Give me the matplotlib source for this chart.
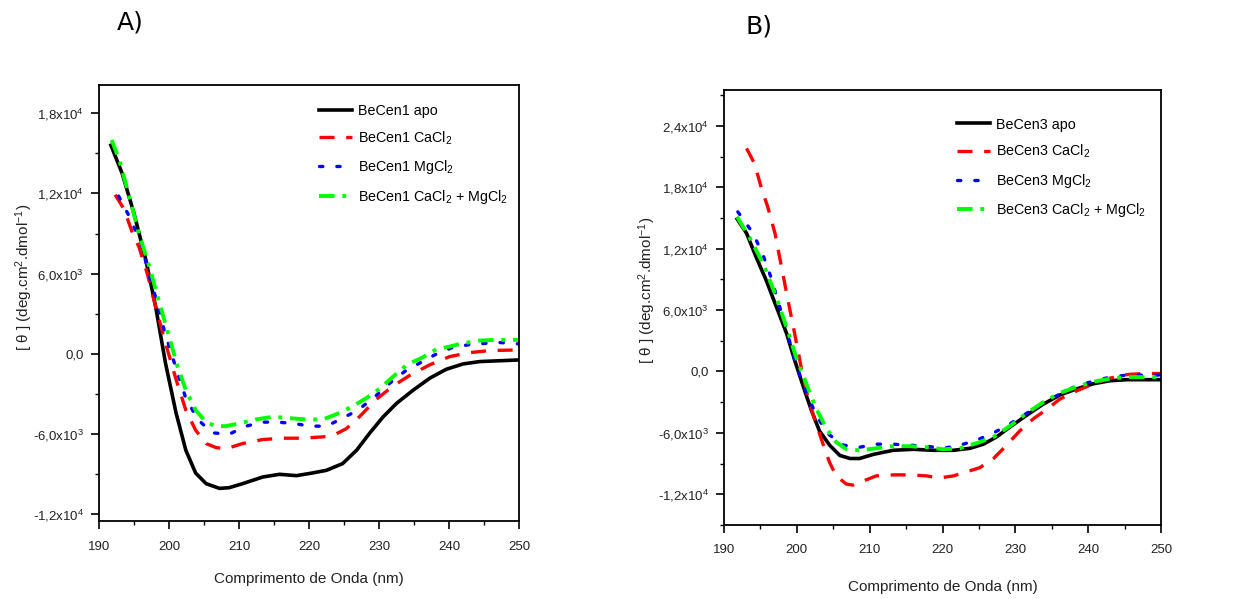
import matplotlib.pyplot as plt
from matplotlib.ticker import FixedLocator, FixedFormatter, MultipleLocator

plt.rcParams['font.family'] = ['Liberation Sans', 'DejaVu Sans']
plt.rcParams['mathtext.fontset'] = 'custom'
plt.rcParams['mathtext.rm'] = 'Liberation Sans'
plt.rcParams['mathtext.it'] = 'Liberation Sans'

# ---- Panel A: BeCen1 ----
a_apo_x = [191.7, 193.3, 195.0, 196.7, 198.1, 199.5, 201.0, 202.4, 203.8, 205.3, 207.2, 208.6,
           210.5, 213.4, 215.8, 218.2, 220.5, 222.5, 224.8, 226.8, 228.7, 230.6, 232.5, 234.9,
           237.3, 239.6, 242.0, 244.4, 246.8, 250.0]
a_apo_y = [15600, 13500, 10500, 7000, 3500, -700, -4400, -7200, -8900, -9700, -10050, -10000,
           -9700, -9200, -9000, -9100, -8900, -8700, -8200, -7200, -5900, -4700, -3700, -2700,
           -1800, -1150, -750, -570, -520, -450]

a_ca_x = [192.3, 193.6, 194.8, 195.7, 196.9, 198.1, 199.5, 201.0, 202.4, 203.8, 205.3, 206.7,
          208.1, 210.5, 213.4, 216.3, 219.1, 222.0, 223.4, 225.3, 227.2, 229.6, 232.0, 234.4,
          237.3, 240.1, 243.0, 245.8, 250.0]
a_ca_y = [11900, 10800, 9000, 8000, 6000, 3500, 800, -1900, -4200, -5700, -6700, -7000,
          -7100, -6700, -6400, -6300, -6300, -6200, -6100, -5600, -4700, -3400, -2400, -1600,
          -800, -200, 100, 250, 300]

a_mg_x = [192.8, 194.3, 196.0, 197.2, 198.5, 199.3, 200.3, 201.2, 202.4, 204.1, 206.2, 208.6,
          211.0, 213.4, 215.5, 217.9, 220.1, 222.5, 224.8, 227.0, 229.4, 231.5, 233.7, 236.1,
          238.4, 240.6, 243.0, 245.4, 247.3, 250.0]
a_mg_y = [11800, 10300, 8300, 5800, 3500, 1800, 100, -1400, -3300, -4900, -5900, -6000,
          -5400, -5100, -5100, -5200, -5400, -5400, -4800, -4200, -3200, -2200, -1300, -600,
          50, 500, 700, 800, 850, 750]

a_camg_x = [191.8, 192.9, 194.3, 195.7, 197.2, 198.8, 200.0, 201.2, 202.4, 203.8, 205.3, 206.7,
            208.1, 210.0, 212.4, 214.8, 217.2, 219.5, 222.0, 224.4, 226.3, 228.2, 230.1, 232.0,
            234.0, 236.1, 238.2, 240.1, 242.0, 244.4, 246.8, 250.0]
a_camg_y = [16000, 14500, 11800, 9000, 6500, 3500, 1300, -900, -2700, -4200, -5100, -5400,
            -5400, -5200, -4900, -4700, -4800, -4900, -4900, -4400, -3900, -3300, -2600, -1700,
            -800, -300, 350, 550, 800, 1000, 1050, 1050]

# ---- Panel B: BeCen3 ----
b_apo_x = [191.8, 193.1, 194.4, 195.8, 197.2, 198.6, 199.7, 200.9, 202.0, 203.1, 204.5, 205.9,
           207.3, 208.6, 210.5, 213.2, 216.0, 218.7, 221.5, 223.8, 225.6, 227.4, 229.3, 231.5,
           233.8, 236.1, 238.4, 240.7, 243.0, 245.3, 250.0]
b_apo_y = [14900, 13500, 11200, 8900, 6300, 3700, 1100, -1500, -3800, -5800, -7200, -8200,
           -8500, -8500, -8100, -7700, -7600, -7700, -7700, -7500, -7100, -6400, -5400, -4300,
           -3200, -2300, -1700, -1200, -900, -800, -800]

b_ca_x = [193.1, 194.2, 195.1, 196.0, 197.0, 197.9, 198.8, 199.7, 200.6, 201.5, 202.5, 203.6,
          204.5, 205.4, 206.8, 207.7, 209.1, 210.9, 213.2, 215.5, 217.8, 219.6, 221.5, 223.3,
          225.1, 227.0, 228.8, 230.6, 232.5, 234.3, 236.1, 238.4, 240.7, 243.0, 245.3, 247.6, 250.0]
b_ca_y = [21800, 20300, 18000, 16100, 13500, 10200, 6900, 3700, 400, -2500, -4800, -7100,
          -8900, -10200, -11000, -11100, -10700, -10200, -10100, -10100, -10200, -10400, -10200, -9800,
          -9400, -8500, -7200, -5800, -4600, -3700, -2700, -1900, -1200, -650, -300, -200, -200]

b_mg_x = [191.9, 194.0, 195.4, 196.5, 197.4, 198.3, 199.1, 200.0, 201.1, 202.5, 204.1, 206.4,
          208.6, 210.9, 213.2, 215.5, 217.8, 220.1, 222.4, 224.7, 227.0, 229.3, 231.5, 233.8,
          236.1, 238.4, 240.7, 243.0, 245.3, 247.6, 250.0]
b_mg_y = [15600, 13500, 11300, 9100, 6900, 4800, 2700, 400, -1700, -4000, -6000, -7200,
          -7400, -7100, -7100, -7200, -7300, -7500, -7200, -6700, -6000, -5100, -4100, -3100,
          -2200, -1400, -950, -550, -350, -350, -350]

b_camg_x = [191.8, 193.5, 195.4, 197.0, 198.6, 199.9, 201.3, 202.7, 204.1, 205.4, 206.8, 208.6,
            210.9, 213.2, 215.5, 217.8, 220.1, 222.4, 224.7, 227.0, 229.3, 231.5, 233.8, 236.1,
            238.4, 240.7, 243.0, 245.3, 250.0]
b_camg_y = [15100, 13100, 10500, 7600, 4300, 1400, -1200, -3700, -5600, -6900, -7600, -7700,
            -7500, -7300, -7300, -7400, -7600, -7500, -7000, -6400, -5300, -4100, -3000, -2100,
            -1500, -1000, -700, -550, -550]

x_ticks = [190, 200, 210, 220, 230, 240, 250]
a_yticks = [-12000, -6000, 0, 6000, 12000, 18000]
a_ylabels = ['-1,2x10$^4$', '-6,0x10$^3$', '0,0', '6,0x10$^3$', '1,2x10$^4$', '1,8x10$^4$']
b_yticks = [-12000, -6000, 0, 6000, 12000, 18000, 24000]
b_ylabels = ['-1,2x10$^4$', '-6,0x10$^3$', '0,0', '6,0x10$^3$', '1,2x10$^4$', '1,8x10$^4$',
             '2,4x10$^4$']

styles = [
    dict(color='black', lw=2.6, ls='-'),
    dict(color='#ff0000', lw=2.4, ls=(0, (4.5, 3.5))),
    dict(color='#0000ff', lw=2.4, ls=(0, (1, 4.2)), dash_capstyle='round'),
    dict(color='#00ff00', lw=2.8, ls=(0, (4, 2, 1, 2))),
]

fig = plt.figure(figsize=(12.41, 5.99), dpi=100)
axA = fig.add_axes([0.0798, 0.130, 0.3384, 0.728])
axB = fig.add_axes([0.5834, 0.1235, 0.3522, 0.7262])


def draw(ax, series, names, yticks, ylabels, ylim, lab_xy, leg_anchor, xpad):
    for (x, y), name, st in zip(series, names, styles):
        ax.plot(x, y, label=name, **st)
    ax.set_xlim(190, 250)
    ax.set_ylim(*ylim)
    ax.xaxis.set_major_locator(FixedLocator(x_ticks))
    ax.xaxis.set_minor_locator(MultipleLocator(5))
    ax.yaxis.set_major_locator(FixedLocator(yticks))
    ax.yaxis.set_major_formatter(FixedFormatter(ylabels))
    ax.yaxis.set_minor_locator(MultipleLocator(3000))
    ax.tick_params(which='major', direction='out', length=6, width=1.2, labelsize=9.5,
                   colors='black', labelcolor='#222222', pad=5)
    ax.tick_params(axis='x', which='major', pad=8)
    ax.tick_params(which='minor', direction='out', length=3, width=1.0)
    for s in ax.spines.values():
        s.set_linewidth(1.3)
    ax.set_xlabel('Comprimento de Onda (nm)', fontsize=11, labelpad=xpad, color='#222222')
    ax.set_ylabel('[ θ ] (deg.cm$^2$.dmol$^{-1}$)', fontsize=11, color='#222222')
    ax.yaxis.set_label_coords(*lab_xy)
    ax.legend(loc='upper left', bbox_to_anchor=leg_anchor, frameon=False, fontsize=10.3,
              handlelength=2.3, handletextpad=0.45, labelspacing=0.8, borderaxespad=0)


draw(axA,
     [(a_apo_x, a_apo_y), (a_ca_x, a_ca_y), (a_mg_x, a_mg_y), (a_camg_x, a_camg_y)],
     ['BeCen1 apo', 'BeCen1 CaCl$_2$', 'BeCen1 MgCl$_2$', 'BeCen1 CaCl$_2$ + MgCl$_2$'],
     a_yticks, a_ylabels, (-12500, 20100), (-0.152, 0.56), (0.51, 0.97), 14)

draw(axB,
     [(b_apo_x, b_apo_y), (b_ca_x, b_ca_y), (b_mg_x, b_mg_y), (b_camg_x, b_camg_y)],
     ['BeCen3 apo', 'BeCen3 CaCl$_2$', 'BeCen3 MgCl$_2$', 'BeCen3 CaCl$_2$ + MgCl$_2$'],
     b_yticks, b_ylabels, (-15000, 27500), (-0.15, 0.54), (0.52, 0.95), 17)

fig.text(0.105, 0.963, 'A)', fontsize=18, ha='center', va='center', family='DejaVu Sans')
fig.text(0.612, 0.955, 'B)', fontsize=18, ha='center', va='center', family='DejaVu Sans')

fig.savefig('out.png', dpi=100, facecolor='white')
